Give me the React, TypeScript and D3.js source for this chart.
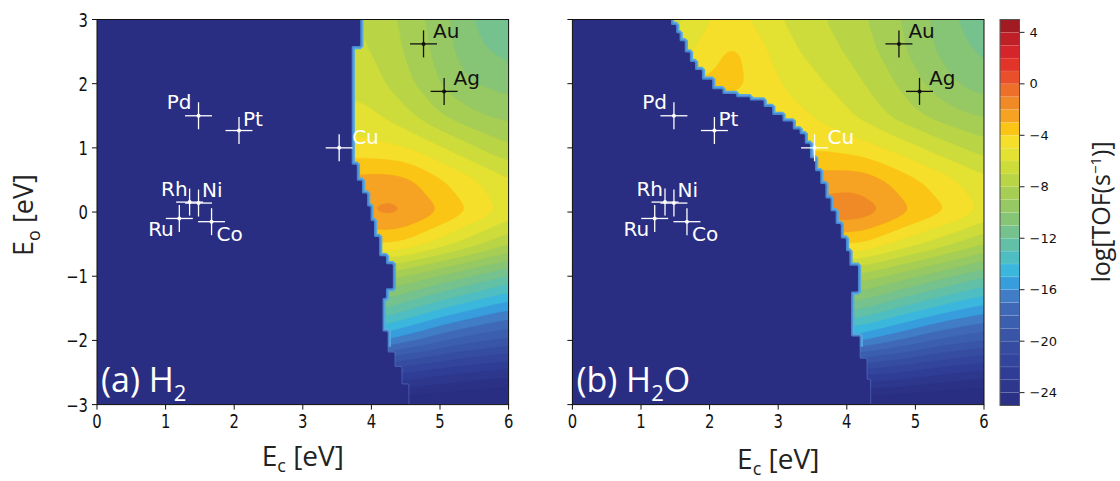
import React, { useMemo } from 'react';
import * as d3 from 'd3';

// ---------- data ----------
const ecTicks = [0, 1, 2, 3, 4, 5, 6];
const eoTicks = [3, 2, 1, 0, -1, -2, -3];
const cbTicks = [4, 0, -4, -8, -12, -16, -20, -24];
const levels = d3.range(-25, 5, 1);

const eoRows = [3, 2.5, 2, 1.5, 1, 0.5, 0, -0.5, -1, -1.5, -2, -2.5, -3];

// (a) H2 : log TOF read on a coarse grid
const ecColsA = [3.5, 3.75, 4.0, 4.25, 4.5, 4.75, 5.0, 5.25, 5.5, 5.75, 6.0];
const tofA = [
  [-6.9, -7.0, -7.2, -7.7, -8.3, -8.9, -9.6, -10.3, -11.0, -11.6, -12.2],
  [-6.7, -6.8, -7.0, -7.5, -8.1, -8.7, -9.4, -10.1, -10.7, -11.0, -11.3],
  [-6.3, -6.4, -6.6, -7.1, -7.7, -8.3, -9.0, -9.6, -10.0, -10.2, -10.4],
  [-5.6, -5.6, -5.8, -6.2, -6.7, -7.3, -7.9, -8.4, -8.8, -9.1, -9.3],
  [-4.6, -4.6, -4.7, -4.8, -5.0, -5.4, -5.9, -6.4, -6.9, -7.4, -7.8],
  [-2.7, -2.7, -2.6, -2.6, -2.8, -3.3, -3.9, -4.4, -4.9, -5.4, -5.9],
  [-2.1, -2.1, -1.9, -1.7, -1.9, -2.4, -3.0, -3.6, -4.2, -4.8, -5.4],
  [-4.0, -4.0, -4.0, -4.0, -4.3, -4.9, -5.5, -6.1, -6.7, -7.3, -7.9],
  [-8.5, -8.5, -8.6, -8.7, -9.1, -9.6, -10.1, -10.6, -11.1, -11.6, -12.1],
  [-11.5, -11.6, -11.8, -12.1, -12.7, -13.3, -13.9, -14.4, -14.9, -15.4, -15.8],
  [-15.5, -15.6, -15.8, -16.1, -16.7, -17.2, -17.8, -18.3, -18.7, -19.0, -19.3],
  [-21.5, -21.5, -21.6, -21.8, -22.0, -22.3, -22.6, -22.9, -23.1, -23.3, -23.5],
  [-26.0, -26.0, -26.0, -26.1, -26.2, -26.3, -26.4, -26.5, -26.6, -26.7, -26.8],
];
// (a) edge of the inactive region: for Eo >= edgeEo[k], inactive when Ec < edgeEc[k]
const edgeEoA = [2.6, 0.74, 0.5, 0.29, 0.09, -0.14, -0.38, -0.69, -0.82, -1.18, -1.33, -1.86, -2.18, -2.4, -2.7, -3.5];
const edgeEcA = [3.83, 3.71, 3.79, 3.86, 3.93, 3.98, 4.05, 4.12, 4.22, 4.32, 4.22, 4.17, 4.25, 4.35, 4.45, 4.55];

// (b) H2O
const ecColsB = [1.25, 1.5, 1.75, 2.0, 2.25, 2.5, 2.75, 3.0, 3.25, 3.5, 3.75, 4.0, 4.25, 4.5, 4.75, 5.0, 5.25, 5.5, 5.75, 6.0];
const tofB = [
  [-6.5, -6.2, -5.8, -5.0, -4.7, -4.8, -5.4, -5.9, -6.3, -6.7, -7.1, -7.5, -7.9, -8.4, -8.9, -9.5, -10.1, -10.7, -11.3, -11.9],
  [-5.6, -5.6, -5.0, -4.4, -3.9, -4.0, -4.7, -5.4, -5.9, -6.3, -6.7, -7.1, -7.6, -8.1, -8.7, -9.3, -9.9, -10.4, -10.8, -11.2],
  [-3.8, -3.8, -3.8, -3.8, -3.7, -3.95, -4.4, -4.9, -5.3, -5.7, -6.1, -6.5, -7.0, -7.5, -8.1, -8.7, -9.3, -9.8, -10.2, -10.5],
  [-4.6, -4.6, -4.6, -4.6, -4.6, -4.6, -4.6, -4.6, -4.7, -5.0, -5.4, -5.8, -6.3, -6.8, -7.3, -7.8, -8.2, -8.6, -8.9, -9.1],
  [-4.2, -4.2, -4.2, -4.2, -4.2, -4.2, -4.2, -4.2, -4.2, -4.2, -4.2, -4.4, -4.6, -5.0, -5.4, -5.8, -6.3, -6.7, -7.1, -7.5],
  [-2.5, -2.5, -2.5, -2.5, -2.5, -2.5, -2.5, -2.5, -2.5, -2.5, -2.5, -2.4, -2.5, -2.9, -3.4, -3.9, -4.3, -4.8, -5.3, -5.7],
  [-1.4, -1.4, -1.4, -1.4, -1.4, -1.4, -1.4, -1.4, -1.4, -1.4, -1.4, -1.3, -1.5, -1.9, -2.5, -3.1, -3.6, -4.0, -4.6, -5.2],
  [-4.0, -4.0, -4.0, -4.0, -4.0, -4.0, -4.0, -4.0, -4.0, -4.0, -4.0, -4.0, -4.1, -4.7, -5.3, -5.8, -6.3, -6.9, -7.4, -8.0],
  [-8.3, -8.3, -8.3, -8.3, -8.3, -8.3, -8.3, -8.3, -8.3, -8.3, -8.3, -8.3, -8.5, -8.9, -9.4, -9.9, -10.4, -10.9, -11.4, -11.9],
  [-11.6, -11.6, -11.6, -11.6, -11.6, -11.6, -11.6, -11.6, -11.6, -11.6, -11.6, -11.6, -12.0, -12.5, -13.1, -13.6, -14.1, -14.6, -15.0, -15.4],
  [-15.6, -15.6, -15.6, -15.6, -15.6, -15.6, -15.6, -15.6, -15.6, -15.6, -15.6, -15.6, -16.0, -16.5, -17.0, -17.5, -18.0, -18.4, -18.7, -19.0],
  [-21.5, -21.5, -21.5, -21.5, -21.5, -21.5, -21.5, -21.5, -21.5, -21.5, -21.5, -21.5, -21.6, -21.8, -22.0, -22.3, -22.6, -22.9, -23.1, -23.3],
  [-26.2, -26.2, -26.2, -26.2, -26.2, -26.2, -26.2, -26.2, -26.2, -26.2, -26.2, -26.2, -26.2, -26.3, -26.4, -26.5, -26.6, -26.7, -26.8, -26.9],
];
const edgeEoB = [2.92, 2.8, 2.66, 2.5, 2.35, 2.22, 2.07, 1.91, 1.83, 1.78, 1.73, 1.63, 1.52, 1.42, 1.29, 1.21, 1.05, 0.85, 0.64, 0.43, 0.22, 0.01, -0.2, -0.41, -0.62, -0.85, -1.25, -1.95, -2.3, -2.6, -3.5];
const edgeEcB = [1.45, 1.52, 1.57, 1.64, 1.71, 1.79, 1.9, 2.03, 2.19, 2.39, 2.59, 2.78, 2.92, 3.07, 3.21, 3.32, 3.39, 3.46, 3.55, 3.62, 3.69, 3.77, 3.84, 3.91, 3.98, 4.05, 4.17, 4.07, 4.2, 4.3, 4.35];

const metals = ['Pd', 'Pt', 'Cu', 'Rh', 'Ni', 'Ru', 'Co', 'Au', 'Ag'];
const metalEc = [1.48, 2.07, 3.53, 1.35, 1.48, 1.2, 1.67, 4.76, 5.06];
const metalEo = [1.5, 1.27, 1.0, 0.155, 0.14, -0.1, -0.15, 2.62, 1.88];

// ---------- layout / style ----------
const labelPlace: Record<string, [string, number, number]> = {
  Pd: ['end', -7, -7], Pt: ['start', 4, -5], Cu: ['start', 13, -4],
  Rh: ['end', -2, -6.5], Ni: ['start', 3.5, -6], Ru: ['end', -5.5, 18],
  Co: ['start', 5, 19.5], Au: ['start', 9.5, -6], Ag: ['start', 9.5, -6],
};
const darkMarkers = new Set(['Au', 'Ag']);

const TOP = 19.5, BOTTOM = 404.6;
const PANEL_A = [97, 508.6];
const PANEL_B = [572.4, 984];
const NAVY = '#2a2e82';

const cmap = d3.scaleLinear<string>()
  .domain([-25, -24, -22, -20, -18, -17, -16, -15, -14, -13, -12, -11, -10, -9, -8, -7, -6, -5, -4.5, -3.5, -2.5, -1.5, -0.5, 0.5, 1.5, 2.5, 3.5, 4.5, 5])
  .range(['#2a2e80', '#2c3589', '#31409a', '#3650a3', '#3d62b2', '#4170bc', '#3f8ad0', '#31b0e8', '#45bdd2', '#58bfb4', '#6cc19a', '#7dc382', '#8ec66a', '#9dca5c', '#afd14b', '#c3d840', '#d8df36', '#ede32e', '#f5df2a', '#fbc515', '#f6a323', '#f08a26', '#ed6f29', '#e84f2a', '#e3342a', '#d6252a', '#bf1f26', '#a01c22', '#8c1a1e'])
  .interpolate(d3.interpolateRgb)
  .clamp(true);

const STEP = 0.025;
const EC0 = -0.1;
const EO0 = 3.1;
const NX = Math.round(6.2 / STEP) + 1;
const NY = Math.round(6.2 / STEP) + 1;

function bilinear(cols: number[], rows: number[], grid: number[][], ec: number, eo: number) {
  const cx = Math.max(cols[0], Math.min(cols[cols.length - 1], ec));
  const cy = Math.max(rows[rows.length - 1], Math.min(rows[0], eo));
  let i = d3.bisectRight(cols, cx) - 1;
  i = Math.min(Math.max(i, 0), cols.length - 2);
  const tx = (cx - cols[i]) / (cols[i + 1] - cols[i]);
  let j = 0;
  while (j < rows.length - 2 && rows[j + 1] > cy) j++;
  const ty = (rows[j] - cy) / (rows[j] - rows[j + 1]);
  const a = grid[j][i] * (1 - tx) + grid[j][i + 1] * tx;
  const b = grid[j + 1][i] * (1 - tx) + grid[j + 1][i + 1] * tx;
  return a * (1 - ty) + b * ty;
}

function edgeAt(edgeEo: number[], edgeEc: number[], eo: number) {
  for (let k = 0; k < edgeEo.length; k++) if (eo >= edgeEo[k]) return edgeEc[k];
  return edgeEc[edgeEc.length - 1];
}

function buildPanel(cols: number[], grid: number[][], edgeEo: number[], edgeEc: number[]) {
  const vals = new Float64Array(NX * NY);
  const mask = new Float64Array(NX * NY);
  for (let j = 0; j < NY; j++) {
    const eo = EO0 - j * STEP;
    const edge = edgeAt(edgeEo, edgeEc, eo);
    for (let i = 0; i < NX; i++) {
      const ec = EC0 + i * STEP;
      vals[j * NX + i] = bilinear(cols, eoRows, grid, ec, eo);
      mask[j * NX + i] = ec < edge ? 1 : 0;
    }
  }
  d3.blur2({ data: vals, width: NX, height: NY }, 3);
  const bands = d3.contours().size([NX, NY]).thresholds(levels)(Array.from(vals));
  const dead = d3.contours().size([NX, NY]).thresholds([0.5])(Array.from(mask))[0];
  return { bands, dead };
}

const ys = d3.scaleLinear().domain([-3, 3]).range([BOTTOM, TOP]);
const cbScale = d3.scaleLinear().domain([-25, 5]).range([405.5, 19.5]);

function Panel({ id, range, field, showYLabels, titleY, tag }: any) {
  const xs = d3.scaleLinear().domain([0, 6]).range(range);
  const proj = d3.geoTransform({
    point(this: any, x: number, y: number) {
      this.stream.point(xs(EC0 + (x - 0.5) * STEP), ys(EO0 - (y - 0.5) * STEP));
    },
  });
  const path = d3.geoPath(proj);
  const w = range[1] - range[0];
  const splitY = ys(-2.1);
  const deadD = path(field.dead) || '';
  return (
    <g>
      <defs>
        <clipPath id={`clip-${id}`}><rect x={range[0]} y={TOP} width={w} height={BOTTOM - TOP} /></clipPath>
        <clipPath id={`clipTop-${id}`}><rect x={range[0]} y={TOP} width={w} height={splitY - TOP} /></clipPath>
        <clipPath id={`clipBot-${id}`}><rect x={range[0]} y={splitY} width={w} height={BOTTOM - splitY} /></clipPath>
      </defs>
      <g clipPath={`url(#clip-${id})`}>
        <rect x={range[0]} y={TOP} width={w} height={BOTTOM - TOP} fill={NAVY} />
        {field.bands.map((c: any, k: number) => (
          <path key={k} d={path(c) || ''} fill={cmap(c.value + 0.5)} stroke={cmap(c.value + 0.5)} strokeWidth={0.3} />
        ))}
      </g>
      <g clipPath={`url(#clipTop-${id})`}>
        <path d={deadD} fill="none" stroke="#5aaadf" strokeWidth={6.5} />
        <path d={deadD} fill="none" stroke="#4786cf" strokeWidth={3.2} />
      </g>
      <g clipPath={`url(#clipBot-${id})`}>
        <path d={deadD} fill="none" stroke="#5a74c4" strokeOpacity={0.45} strokeWidth={2.5} />
      </g>
      <g clipPath={`url(#clip-${id})`}>
        <path d={deadD} fill={NAVY} stroke="none" />
      </g>
      {/* markers */}
      {metals.map((m, k) => {
        const cx = xs(metalEc[k]);
        const cy = ys(metalEo[k]);
        const col = darkMarkers.has(m) ? '#111' : '#fff';
        const [anchor, dx, dy] = labelPlace[m];
        return (
          <g key={m}>
            <line x1={cx - 13.5} x2={cx + 13.5} y1={cy} y2={cy} stroke={col} strokeWidth={1.3} />
            <line x1={cx} x2={cx} y1={cy - 13.5} y2={cy + 13.5} stroke={col} strokeWidth={1.3} />
            <circle cx={cx} cy={cy} r={2} fill={col} />
            <text x={cx + dx} y={cy + dy} textAnchor={anchor} fill={col} fontSize={20} fontFamily="DejaVu Sans">{m}</text>
          </g>
        );
      })}
      {/* tag */}
      <text x={range[0] + 4} y={392} fill="#fff" fontSize={34} fontFamily="Open Sans">
        {tag}
      </text>
      {/* frame */}
      <rect x={range[0]} y={TOP} width={w} height={BOTTOM - TOP} fill="none" stroke="#111" strokeWidth={1} />
      {/* x ticks */}
      {ecTicks.map((t) => (
        <g key={t}>
          <line x1={xs(t)} x2={xs(t)} y1={BOTTOM} y2={BOTTOM + 5} stroke="#111" strokeWidth={1} />
          <text transform={`translate(${xs(t)},${428}) scale(0.78,1)`} textAnchor="middle" fontSize={19} fontFamily="DejaVu Sans" fill="#111">{t}</text>
        </g>
      ))}
      {eoTicks.map((t) => (
        <g key={t}>
          <line x1={range[0] - 5} x2={range[0]} y1={ys(t)} y2={ys(t)} stroke="#111" strokeWidth={1} />
          {showYLabels && (
            <text transform={`translate(${range[0] - 9},${ys(t) + 7}) scale(0.78,1)`} textAnchor="end" fontSize={19} fontFamily="DejaVu Sans" fill="#111">{t < 0 ? `\u2212${-t}` : t}</text>
          )}
        </g>
      ))}
      <text x={(range[0] + range[1]) / 2} y={titleY} textAnchor="middle" fontSize={28} fontFamily="Open Sans" fill="#222">
        E<tspan dy={6} fontSize={18}>c</tspan><tspan dy={-6}> [eV]</tspan>
      </text>
    </g>
  );
}

export default function App() {
  const fieldA = useMemo(() => buildPanel(ecColsA, tofA, edgeEoA, edgeEcA), []);
  const fieldB = useMemo(() => buildPanel(ecColsB, tofB, edgeEoB, edgeEcB), []);
  const cbX = 1000, cbW = 19.5;
  return (
    <svg width={1120} height={481} style={{ position: 'absolute', left: 0, top: 0, background: '#fff' }}>
      <Panel id="a" range={PANEL_A} field={fieldA} showYLabels titleY={466}
        tag={<><tspan>(a) H</tspan><tspan dy={9} fontSize={22}>2</tspan></>} />
      <Panel id="b" range={PANEL_B} field={fieldB} showYLabels={false} titleY={469}
        tag={<><tspan>(b) H</tspan><tspan dy={9} fontSize={22}>2</tspan><tspan dy={-9}>O</tspan></>} />
      {/* y title */}
      <text transform="translate(33,215) rotate(-90)" textAnchor="middle" fontSize={27} fontFamily="Open Sans" fill="#222">
        E<tspan dy={7} fontSize={18}>o</tspan><tspan dy={-7}> [eV]</tspan>
      </text>
      {/* colorbar */}
      {levels.map((v) => (
        <rect key={v} x={cbX} y={cbScale(v + 1)} width={cbW} height={cbScale(v) - cbScale(v + 1)} fill={cmap(v + 0.5)} stroke="rgba(255,255,255,0.12)" strokeWidth={0.6} />
      ))}
      <rect x={cbX} y={cbScale(5)} width={cbW} height={cbScale(-25) - cbScale(5)} fill="none" stroke="#555" strokeWidth={1} />
      {cbTicks.map((t) => (
        <g key={t}>
          <line x1={cbX + cbW} x2={cbX + cbW + 5} y1={cbScale(t)} y2={cbScale(t)} stroke="#222" strokeWidth={1} />
          <text x={cbX + cbW + 10} y={cbScale(t) + 4.5} fontSize={13} fontFamily="DejaVu Sans" fill="#111">{t < 0 ? `\u2212${-t}` : t}</text>
        </g>
      ))}
      <text transform="translate(1110,212) rotate(-90)" textAnchor="middle" fontSize={25} fontFamily="Open Sans" fill="#222">
        log[TOF(s<tspan dy={-9} fontSize={15}>−1</tspan><tspan dy={9}>)]</tspan>
      </text>
    </svg>
  );
}
